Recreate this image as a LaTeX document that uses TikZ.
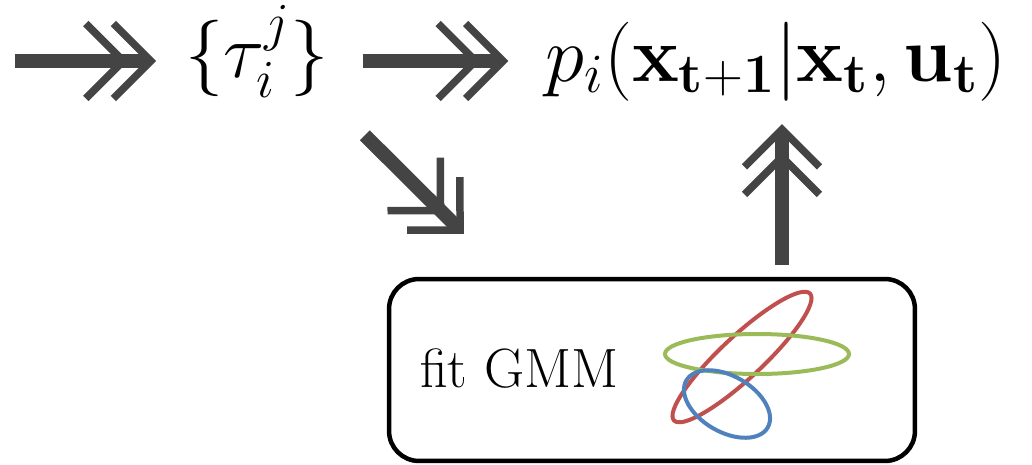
\documentclass[tikz,border=0pt]{standalone}
\usepackage{fix-cm}
\usepackage{amsmath,amssymb}
\usepackage{tikz}
\usetikzlibrary{arrows.meta,positioning}
\definecolor{Arrowgrey}{HTML}{444444}
\definecolor{GmmRed}{HTML}{C0504D}
\definecolor{GmmGreen}{HTML}{9BBB59}
\definecolor{GmmBlue}{HTML}{4F81BD}

\begin{document}
\begin{tikzpicture}[x=0.02cm,y=-0.02cm]
        \tikzset{
          dblarrow/.style={
            draw=Arrowgrey,
            line width=0.28cm,
            -{Straight Barb[sharp,length=0.75cm,width=1.5cm,line width=0.15cm 0,sep=-0.38cm 0]
              Straight Barb[sharp,length=0.75cm,width=1.5cm,line width=0.15cm 0]}
          },
          mathlbl/.style={
            inner sep=0pt,
            font=\fontsize{43.5}{50}\selectfont
          },
          gmmbox/.style={
            draw,
            line width=0.09cm,
            rounded corners=0.6cm,
            minimum width=10.52cm,
            minimum height=3.64cm
          },
          gauss/.style={
            line width=0.08cm
          }
        }
        \useasboundingbox (0,0) rectangle (1032,464);
        % top row
        \coordinate (in) at (15,61);
        \node[mathlbl,anchor=base] (tau) at (257,77) {$\{\tau_i^j\}$};
        \node[mathlbl,anchor=base,font=\fontsize{45}{52}\selectfont] (pdist) at (776,81)
          {$p_i(\mathbf{x}_{\mathbf{t+1}}|\mathbf{x}_{\mathbf{t}},\mathbf{u}_{\mathbf{t}})$};
        % mixture box
        \node[gmmbox] (gmm) at (652,370) {};
        \node[anchor=base west,inner sep=0pt,font=\fontsize{31.5}{37}\selectfont]
          (fitlbl) at (420,387) {fit GMM};
        \draw[gauss,GmmRed,rotate around={43:(742,357)}]
          (742,357) ellipse[x radius=93,y radius=21];
        \draw[gauss,GmmGreen] (757,354) ellipse[x radius=92,y radius=20];
        \draw[gauss,GmmBlue,rotate around={-30:(727,404)}]
          (727,404) ellipse[x radius=47,y radius=28];
        % arrows
        \draw[dblarrow,shorten >=0.58cm] (in) -- (in -| tau.west);
        \draw[dblarrow,shorten <=0.68cm,shorten >=0.74cm] (tau.east |- in) -- (in -| pdist.west);
        \draw[dblarrow] ([shift={(36,37)}]tau.south east) -- ([shift={(77,-43)}]gmm.north west);
        \draw[dblarrow] ([shift={(130,-12)}]gmm.north) -- ([shift={(6,23)}]pdist.south);
      \end{tikzpicture}
\end{document}
